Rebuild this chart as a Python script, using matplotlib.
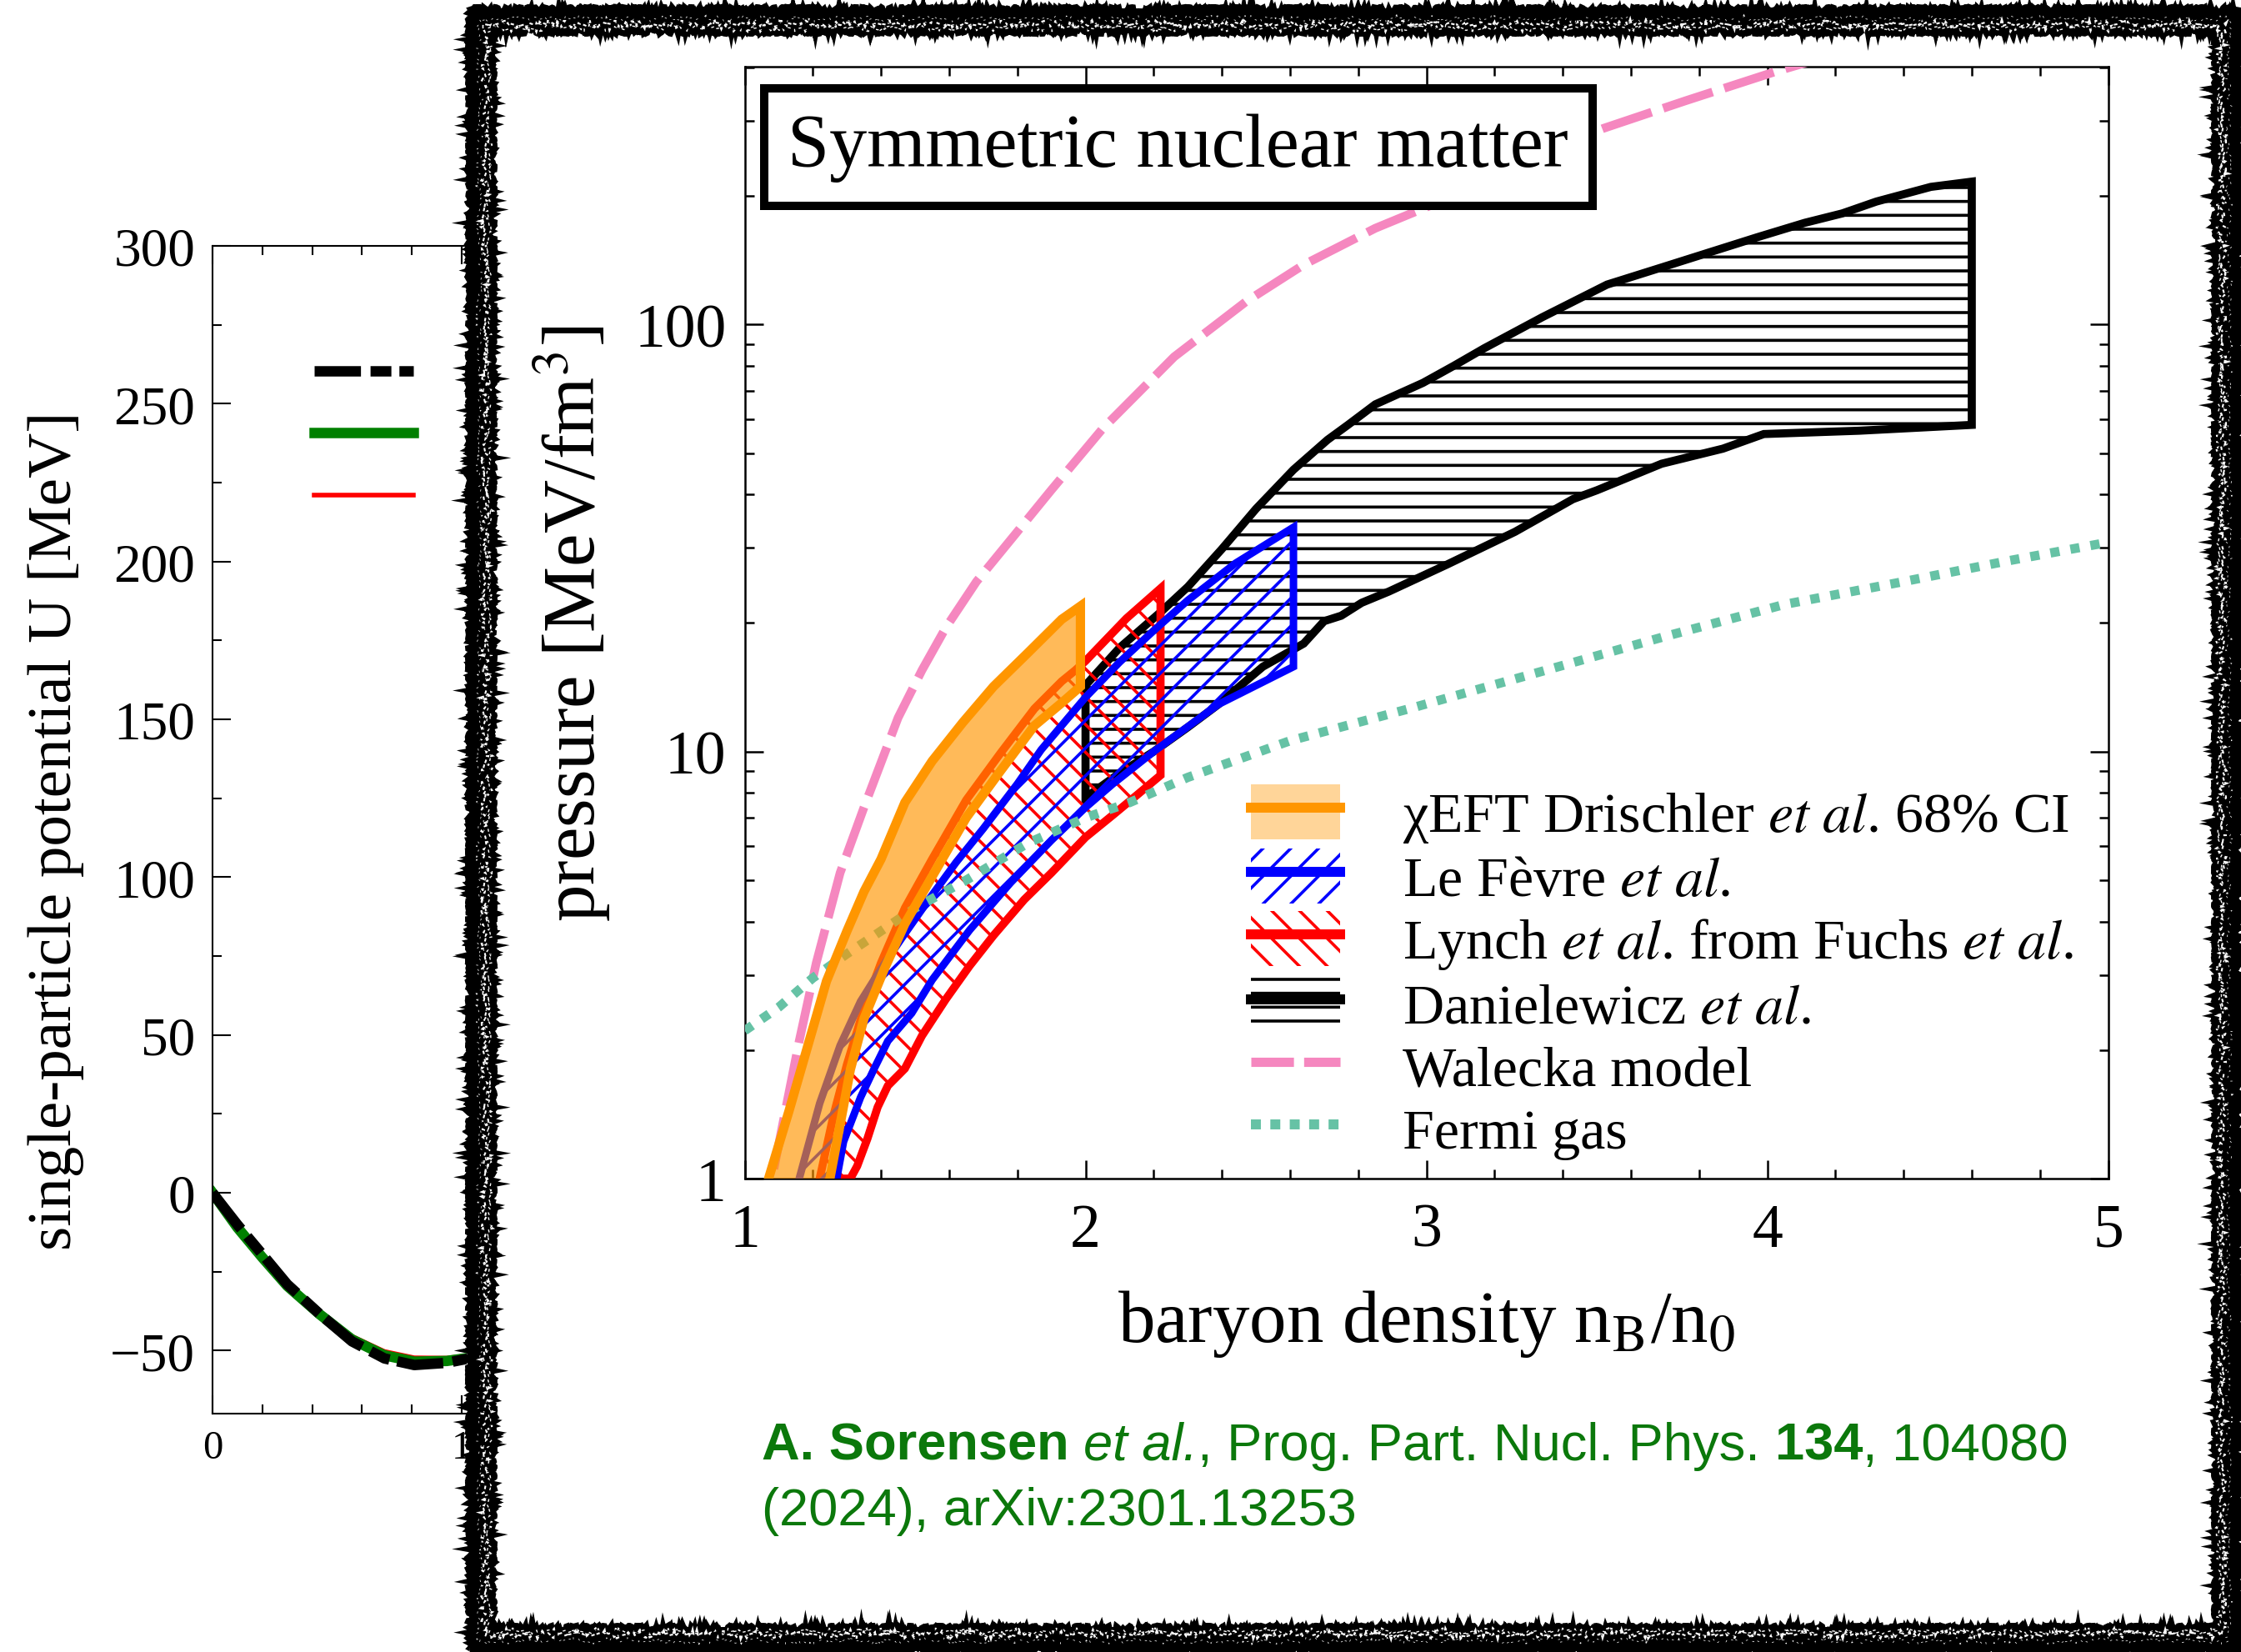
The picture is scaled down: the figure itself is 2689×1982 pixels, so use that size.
import matplotlib
matplotlib.use('Agg')
import matplotlib.pyplot as plt
from matplotlib import ticker
from matplotlib.patches import Rectangle, Patch
from matplotlib.lines import Line2D
from matplotlib.font_manager import FontProperties

plt.rcParams['font.family'] = ['Liberation Serif', 'DejaVu Serif']
plt.rcParams['hatch.linewidth'] = 2.6

# ---- single-particle potential (background panel) ----
u_n = [0, 0.1, 0.2, 0.3, 0.43, 0.56, 0.69, 0.81, 0.94, 1.03, 1.1]
u_black = [0, -10.1, -19.5, -29.0, -38.4, -47.1, -52.5, -54.6, -53.9, -52.5, -50.5]
u_green = [0, -11.0, -20.5, -29.5, -38.5, -46.5, -51.5, -53.5, -53.3, -52.3, -50.8]
u_red = [0, -12.0, -21.5, -29.5, -38.0, -45.5, -50.3, -52.3, -52.4, -51.6, -50.2]

# ---- pressure of symmetric nuclear matter ----
walecka_n = [1.05, 1.08, 1.12, 1.16, 1.21, 1.28, 1.35, 1.45, 1.52, 1.59, 1.68, 1.79,
             1.9, 2.05, 2.26, 2.47, 2.64, 2.85, 3.08, 3.35, 3.52, 3.76, 4.02, 4.2]
walecka_p = [0.75, 1.0, 1.45, 2.1, 3.2, 5.2, 7.4, 12.0, 15.5, 19.5, 25.0, 32,
             41, 57, 84, 113, 138, 168, 200, 255, 288, 334, 390, 430]

fermi_n = [1.0, 1.1, 1.2, 1.3, 1.4, 1.5, 1.65, 1.83, 2.0, 2.13, 2.3, 2.6, 2.95,
           3.35, 3.7, 4.05, 4.4, 4.7, 5.0]
fermi_p = [2.22, 2.52, 2.95, 3.36, 3.8, 4.3, 5.0, 6.1, 7.0, 7.6, 8.7, 10.6, 12.6,
           15.5, 18.6, 22.1, 25.0, 27.9, 30.9]

chieft_up_n = [1.05, 1.07, 1.13, 1.18, 1.24, 1.3, 1.35, 1.4, 1.47, 1.55, 1.64, 1.73,
               1.83, 1.93, 1.985]
chieft_up_p = [0.8, 1.0, 1.44, 1.98, 2.9, 3.8, 4.7, 5.6, 7.6, 9.5, 11.7, 14.2,
               17.0, 20.4, 21.9]
chieft_lo_n = [1.24, 1.25, 1.28, 1.31, 1.35, 1.41, 1.47, 1.55, 1.65, 1.75, 1.85,
               1.93, 1.985]
chieft_lo_p = [0.85, 1.0, 1.34, 1.8, 2.37, 3.1, 3.95, 5.1, 7.0, 9.0, 11.5, 13.0, 14.2]

lefevre_up_n = [1.14, 1.16, 1.22, 1.28, 1.34, 1.4, 1.46, 1.54, 1.62, 1.7, 1.8, 1.87,
                2.0, 2.1, 2.2, 2.3, 2.44, 2.61]
lefevre_up_p = [0.85, 1.0, 1.5, 2.05, 2.6, 3.1, 3.65, 4.5, 5.5, 6.6, 8.4, 10.1,
                13.4, 16.2, 19.2, 22.6, 27.6, 33.5]
lefevre_lo_n = [1.26, 1.27, 1.29, 1.34, 1.38, 1.42, 1.49, 1.55, 1.66, 1.78, 1.9,
                2.0, 2.08, 2.2, 2.39, 2.61]
lefevre_lo_p = [0.85, 1.0, 1.22, 1.55, 1.81, 2.1, 2.44, 2.92, 3.82, 4.93, 6.2,
                7.4, 8.4, 10.0, 12.9, 15.8]

lynch_up_n = [1.22, 1.26, 1.3, 1.35, 1.4, 1.47, 1.55, 1.65, 1.75, 1.85, 1.93, 1.97,
              2.0, 2.12, 2.22]
lynch_up_p = [1.0, 1.4, 1.85, 2.5, 3.2, 4.3, 5.6, 7.7, 9.9, 12.6, 14.6, 15.5,
              16.3, 20.5, 24.1]
lynch_lo_n = [1.31, 1.33, 1.36, 1.39, 1.42, 1.47, 1.52, 1.59, 1.66, 1.73, 1.82, 1.9,
              2.0, 2.08, 2.15, 2.22]
lynch_lo_p = [1.0, 1.07, 1.24, 1.47, 1.65, 1.81, 2.16, 2.63, 3.15, 3.71, 4.5, 5.2,
              6.3, 7.1, 7.9, 8.8]

dan_up_n = [2.0, 2.1, 2.22, 2.3, 2.4, 2.5, 2.61, 2.71, 2.77, 2.85, 2.99, 3.08, 3.17,
            3.34, 3.53, 3.69, 3.97, 4.11, 4.22, 4.32, 4.48, 4.6]
dan_up_p = [14.3, 17.5, 21.2, 24.3, 29.8, 37.0, 45.7, 53.7, 58.2, 65.0, 73.0, 80.0,
            88.0, 104, 124, 136, 160, 173, 182, 194, 210, 216]
dan_lo_n = [2.0, 2.1, 2.2, 2.3, 2.39, 2.52, 2.64, 2.7, 2.75, 2.81, 2.89, 3.06, 3.26,
            3.43, 3.5, 3.69, 3.87, 3.99, 4.27, 4.6]
dan_lo_p = [7.8, 8.9, 10.0, 11.4, 12.9, 15.8, 17.9, 20.2, 20.8, 22.3, 23.7, 27.4,
            32.7, 39.0, 40.9, 47.2, 51.2, 55.4, 56.4, 58.2]

legend_labels = [r'χEFT Drischler $\mathit{et\ al}$. 68% CI',
                 r'Le Fèvre $\mathit{et\ al}$.',
                 r'Lynch $\mathit{et\ al}$. from Fuchs $\mathit{et\ al}$.',
                 r'Danielewicz $\mathit{et\ al}$.',
                 'Walecka model',
                 'Fermi gas']

# citation pieces: (text, weight, style, spaces before)
cite_line1 = [('A. Sorensen', 'bold', 'normal', 0),
              ('et al.', 'normal', 'italic', 1),
              (', Prog. Part. Nucl. Phys.', 'normal', 'normal', 0),
              ('134', 'bold', 'normal', 1),
              (', 104080', 'normal', 'normal', 0)]
cite_line2 = [('(2024), arXiv:2301.13253', 'normal', 'normal', 0)]

ORANGE = '#FF9600'
BLUE = '#0000FF'
RED = '#FF0000'
PINK = '#F587BF'
GREEN = '#66C2A5'
CITE = '#0B780B'

W, H, DPI = 2689, 1983, 100


def band(ax, up_n, up_p, lo_n, lo_p, **kw):
    # closed outline: upper edge left->right, lower edge right->left
    xs = list(up_n) + list(lo_n)[::-1]
    ys = list(up_p) + list(lo_p)[::-1]
    return ax.fill(xs, ys, **kw)


fig = plt.figure(figsize=(W / DPI, H / DPI), dpi=DPI)

# background panel, mostly covered by the inset frame
axl = fig.add_axes([0.0948, 0.1442, 0.3336, 0.7065])
axl.set_zorder(0)
ln_red, = axl.plot(u_n, u_red, color=RED, lw=4)
ln_green, = axl.plot(u_n, u_green, color='#008000', lw=9)
ln_black, = axl.plot(u_n, u_black, color='black', lw=9,
                     dashes=(4.45, 0.92, 2.0, 0.77))
axl.set_xlim(0, 3)
axl.set_ylim(-70, 300)
axl.xaxis.set_major_locator(ticker.MultipleLocator(1))
axl.xaxis.set_minor_locator(ticker.MultipleLocator(0.2))
axl.yaxis.set_major_locator(ticker.MultipleLocator(50))
axl.yaxis.set_minor_locator(ticker.MultipleLocator(25))
axl.tick_params(which='both', direction='in', top=True, right=True, width=1.5)
axl.tick_params(which='major', length=16)
axl.tick_params(which='minor', length=8)
axl.tick_params(axis='y', labelsize=47, pad=15)
axl.tick_params(axis='x', labelsize=35, pad=14)
for s in axl.spines.values():
    s.set_linewidth(1.5)
axl.set_ylabel('single-particle potential U [MeV]', fontsize=54)
axl.yaxis.set_label_coords(-0.172, 0.5)
axl.legend(handles=[ln_black, ln_green, ln_red], labels=['', '', ''],
           loc='upper left', bbox_to_anchor=(0.136, 0.908), frameon=False,
           fontsize=40, handlelength=2.14, labelspacing=0.41,
           borderpad=0, borderaxespad=0)

# white inset sheet
fig.add_artist(Rectangle((0.2083, -0.02), 0.82, 1.04, transform=fig.transFigure,
                         fc='white', ec='none', zorder=1))

# main panel
ax = fig.add_axes([0.3323, 0.2864, 0.6084, 0.6729])
ax.set_zorder(2)
ax.set_yscale('log')

band(ax, dan_up_n, dan_up_p, dan_lo_n, dan_lo_p, fc='none', ec='black',
     hatch='-', lw=7, zorder=2)
band(ax, lynch_up_n, lynch_up_p, lynch_lo_n, lynch_lo_p, fc='none', ec=RED,
     hatch='\\', lw=7, zorder=3)
band(ax, lefevre_up_n, lefevre_up_p, lefevre_lo_n, lefevre_lo_p, fc='none',
     ec=BLUE, hatch='/', lw=6.5, zorder=4)
ax.plot(walecka_n, walecka_p, color=PINK, lw=7.5, dashes=(6, 1.4), zorder=5)
ax.plot(fermi_n, fermi_p, color=GREEN, lw=8, dashes=(1, 1.2), zorder=5)
band(ax, chieft_up_n, chieft_up_p, chieft_lo_n, chieft_lo_p,
     fc=(1.0, 0.59, 0.0, 0.65), ec=ORANGE, lw=8, zorder=6)

ax.set_xlim(1, 5)
ax.set_ylim(1, 402)
ax.xaxis.set_major_locator(ticker.MultipleLocator(1))
ax.xaxis.set_minor_locator(ticker.MultipleLocator(0.2))
ax.yaxis.set_major_formatter(ticker.FuncFormatter(lambda v, _: f'{v:g}'))
ax.yaxis.set_minor_formatter(ticker.NullFormatter())
ax.tick_params(which='both', direction='in', top=True, right=True, width=1.8,
               labelsize=53, pad=16)
ax.tick_params(axis='x', pad=21)
ax.tick_params(which='major', length=16)
ax.tick_params(which='minor', length=8)
for s in ax.spines.values():
    s.set_linewidth(1.8)

ax.set_xlabel(r'baryon density n$_\mathrm{B}$/n$_\mathrm{0}$', fontsize=64,
              math_fontfamily='stix')
ax.xaxis.set_label_coords(0.5, -0.098)
ax.set_ylabel(r'pressure [MeV/fm$^\mathrm{3}$]', fontsize=64,
              math_fontfamily='stix')
ax.yaxis.set_label_coords(-0.096, 0.5)

ax.text(0.318, 0.9274, 'Symmetric nuclear matter', transform=ax.transAxes,
        ha='center', va='center', fontsize=65, zorder=10,
        bbox=dict(boxstyle='square,pad=0.32', fc='white', ec='black', lw=7.2))

handles = [
    (Patch(fc=ORANGE, alpha=0.4, ec='none'), Line2D([], [], color=ORANGE, lw=8.6)),
    (Patch(fc='white', ec=BLUE, hatch='/', lw=0), Line2D([], [], color=BLUE, lw=8.6)),
    (Patch(fc='white', ec=RED, hatch='\\', lw=0), Line2D([], [], color=RED, lw=8.6)),
    (Patch(fc='white', ec='black', hatch='-', lw=0), Line2D([], [], color='black', lw=8.6)),
    Line2D([], [], color=PINK, lw=8, dashes=(4.6, 1.1)),
    Line2D([], [], color=GREEN, lw=8.6, dashes=(1, 0.95)),
]
leg_font = FontProperties(family='Liberation Serif', size=49, math_fontfamily='stix')
ax.legend(handles, legend_labels, loc='lower left', bbox_to_anchor=(0.3713, 0.017),
          prop=leg_font, frameon=False, handlelength=1.57, handleheight=1.12,
          handletextpad=1.11, labelspacing=0.075, borderpad=0, borderaxespad=0)

# rough black frame around the inset
fx0, fy0, fx1, fy1 = 0.2146, 0.0081, 0.9937, 0.9874
fig.add_artist(Rectangle((fx0, fy0), fx1 - fx0, fy1 - fy0, transform=fig.transFigure,
                         fill=False, ec='black', lw=20, zorder=3))
for dpx, lw, col, ls in [(13, 5, 'black', '-'), (-13, 5, 'black', '-'),
                         (-5, 3.0, 'white', (0, (0.5, 2.5))),
                         (-9, 2.5, 'white', (0, (0.4, 3.0))),
                         (2, 1.8, 'white', (0, (0.3, 5.0)))]:
    ox, oy = dpx / W, dpx / H
    r = Rectangle((fx0 - ox, fy0 - oy), fx1 - fx0 + 2 * ox, fy1 - fy0 + 2 * oy,
                  transform=fig.transFigure, fill=False, ec=col, lw=lw,
                  linestyle=ls, zorder=4)
    r.set_sketch_params(scale=3, length=6, randomness=12)
    fig.add_artist(r)

# reference line, written piece by piece so bold/italic runs sit side by side
cite_size = 45.5
cite = dict(color=CITE, fontsize=cite_size, family='Liberation Sans',
            va='baseline', zorder=5)
renderer = fig.canvas.get_renderer()
space_px = 0.278 * cite_size * DPI / 72


def write_pieces(x_px, y_px, pieces):
    x = x_px
    for txt, weight, style, gap in pieces:
        x += gap * space_px
        t = fig.text(x / W, 1 - y_px / H, txt, fontweight=weight,
                     fontstyle=style, **cite)
        x += t.get_window_extent(renderer).width


write_pieces(914, 1752, cite_line1)
write_pieces(914, 1830, cite_line2)

fig.savefig('out.png', dpi=DPI)
